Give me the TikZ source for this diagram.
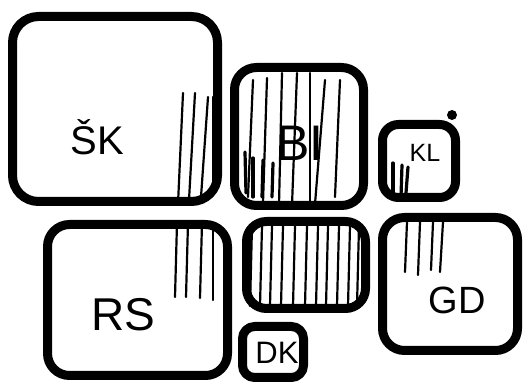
\documentclass[tikz,border=0pt]{standalone}
\usepackage{fontspec}
\setmainfont{Liberation Sans}
\begin{document}
\begin{tikzpicture}[x=1pt,y=-1pt,line cap=round,line join=round,
	box/.style={draw,line width=9pt,inner sep=0pt,rounded corners=#1},
	box/.default=20pt,
	hatch/.style={line width=2.2pt},
	stub/.style={line width=3.2pt},
	lbl/.style={font=\fontsize{#1}{#1}\selectfont,inner sep=0pt}]
	\useasboundingbox (0,0) rectangle (525,387);
	% boxes
	\node[box=26pt,minimum width=205,minimum height=185] (sk) at (115,109) {};
	\node[box=22pt,minimum width=129,minimum height=138] (bi) at (299,136.5) {};
	\node[box=16pt,minimum width=73,minimum height=73] (kl) at (419,161) {};
	\node[box=20pt,minimum width=119,minimum height=87] (mid) at (306,265) {};
	\node[box=22pt,minimum width=180,minimum height=151] (rs) at (137.5,300) {};
	\node[box=12pt,minimum width=61,minimum height=51] (dk) at (273,352) {};
	\node[box=22pt,minimum width=135,minimum height=133] (gd) at (450,284) {};
	% hatching
	\foreach \xa/\ya/\xb/\yb in {183/93/178/204,195/93/189/200,208/97/201/197,213/97/213/193}
		\draw[hatch] (\xa,\ya) -- (\xb,\yb);
	\foreach \xa/\ya/\xb/\yb in {253/80/248/197,267/78/263/203,282/73/279/205,297/73/292/205,310/73/310/205,325/80/315/204,340/80/335/197}
		\draw[hatch] (\xa,\ya) -- (\xb,\yb);
	\foreach \xa/\ya/\xb/\yb in {245/152/246/193,253/158/253/197,263/160/262/197,273/163/272/197}
		\draw[stub] (\xa,\ya) -- (\xb,\yb);
	\foreach \xa/\ya/\xb/\yb in {393/163/393/193,402/165/401/197,408/167/406/193}
		\draw[stub] (\xa,\ya) -- (\xb,\yb);
	\foreach \x in {252,262,272,283,295,307,318,328,339,350,359}
		\draw[hatch] (\x,226) -- (\x-2,306);
	\foreach \xa/\ya/\xb/\yb in {177/223/175/297,188/223/186/297,202/223/200/298,213/227/213/300}
		\draw[hatch] (\xa,\ya) -- (\xb,\yb);
	\foreach \xa/\ya/\xb/\yb in {407/222/405/272,420/222/418/275,433/222/431/270,443/222/440/272}
		\draw[hatch] (\xa,\ya) -- (\xb,\yb);
	\fill (452,115) circle (5pt);
	% labels
	\node[lbl=40] (skl) at (97,137) {ŠK};
	\node[lbl=50] (bil) at (300,143) {BI};
	\node[lbl=25] (kll) at (425,153) {KL};
	\node[lbl=46] (rsl) at (123,315) {RS};
	\node[lbl=38] (gdl) at (457,300) {GD};
	\node[lbl=31] (dkl) at (277,353) {DK};
\end{tikzpicture}
\end{document}
